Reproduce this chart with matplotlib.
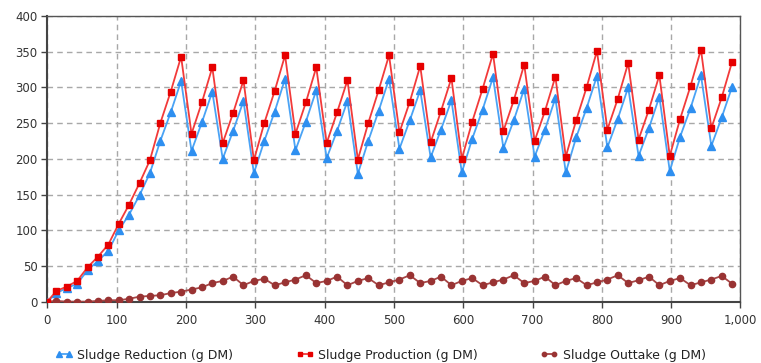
import matplotlib
matplotlib.use('Agg')
import matplotlib.pyplot as plt
from matplotlib.ticker import MultipleLocator, FuncFormatter

# time axis (days)
days = [0, 13, 28, 43, 58, 73, 88, 103, 118, 133,
        148, 163, 178, 193, 208, 223, 238, 253, 268, 283,
        298, 313, 328, 343, 358, 373, 388, 403, 418, 433,
        448, 463, 478, 493, 508, 523, 538, 553, 568, 583,
        598, 613, 628, 643, 658, 673, 688, 703, 718, 733,
        748, 763, 778, 793, 808, 823, 838, 853, 868, 883,
        898, 913, 928, 943, 958, 973, 988]

sludge_reduction = [0, 12, 19, 25, 44, 57, 71, 100, 122, 149,
                    180, 225, 265, 309, 211, 251, 294, 200, 239, 281,
                    180, 225, 266, 312, 212, 252, 296, 201, 239, 281,
                    179, 225, 267, 312, 214, 254, 296, 202, 241, 282,
                    181, 228, 269, 314, 215, 254, 298, 203, 241, 285,
                    181, 230, 271, 316, 216, 256, 300, 204, 243, 287,
                    183, 231, 271, 317, 218, 258, 301]

sludge_production = [0, 15, 21, 29, 48, 63, 80, 109, 136, 166,
                     198, 250, 294, 343, 235, 279, 328, 222, 264, 310,
                     198, 250, 295, 345, 235, 279, 328, 222, 265, 310,
                     199, 250, 296, 345, 237, 280, 330, 223, 267, 313,
                     200, 252, 298, 347, 239, 282, 332, 225, 267, 315,
                     203, 254, 300, 351, 241, 284, 334, 227, 269, 317,
                     204, 256, 302, 353, 243, 286, 336]

sludge_outtake = [0, 1, 0, 0, 0, 1, 2, 2, 4, 7,
                  8, 9, 12, 14, 17, 20, 26, 29, 35, 23,
                  29, 32, 23, 27, 31, 37, 26, 29, 35, 23,
                  29, 33, 23, 27, 31, 37, 26, 29, 35, 23,
                  29, 33, 23, 27, 31, 37, 26, 29, 35, 23,
                  29, 33, 23, 27, 31, 37, 26, 30, 35, 23,
                  29, 33, 23, 27, 31, 36, 25]

fig = plt.figure(figsize=(7.61, 3.63), dpi=100)
ax = fig.add_axes([0.0622, 0.169, 0.9108, 0.787])

ax.plot(days, sludge_reduction, color='#4aa3f5', lw=1.3, marker='^', ms=5.5,
        mfc='#2e8ff0', mec='#2e8ff0', label='Sludge Reduction (g DM)', zorder=3)
ax.plot(days, sludge_production, color='#f23a3a', lw=1.3, marker='s', ms=4.8,
        mfc='#e60000', mec='#e60000', label='Sludge Production (g DM)', zorder=4)
ax.plot(days, sludge_outtake, color='#a64545', lw=1.3, marker='o', ms=4.5,
        mfc='#993333', mec='#993333', label='Sludge Outtake (g DM)', zorder=3)

ax.set_xlim(0, 1000)
ax.set_ylim(0, 400)
ax.xaxis.set_major_locator(MultipleLocator(100))
ax.yaxis.set_major_locator(MultipleLocator(50))
ax.xaxis.set_major_formatter(FuncFormatter(lambda v, p: '{:,.0f}'.format(v)))

ax.grid(True, color='#a8a8a8', linestyle=(0, (4, 3)), linewidth=1.0)
ax.set_axisbelow(True)

for s in ['left', 'bottom']:
    ax.spines[s].set_color('#444444')
    ax.spines[s].set_linewidth(1.5)
for s in ['top', 'right']:
    ax.spines[s].set_color('#555555')
    ax.spines[s].set_linewidth(1.0)

ax.tick_params(axis='both', direction='out', length=4, width=1, color='#444444',
               labelsize=8.5, labelcolor='#333333')
ax.tick_params(axis='x', pad=5)
ax.tick_params(axis='y', pad=3)

fig.legend(loc='center', bbox_to_anchor=(0.5, 0.022), ncol=3, frameon=False,
           fontsize=9, numpoints=2, markerscale=0.7, handlelength=1.4,
           handletextpad=0.4, columnspacing=5.0, labelcolor='#222222')

fig.savefig('out.png', dpi=100)
